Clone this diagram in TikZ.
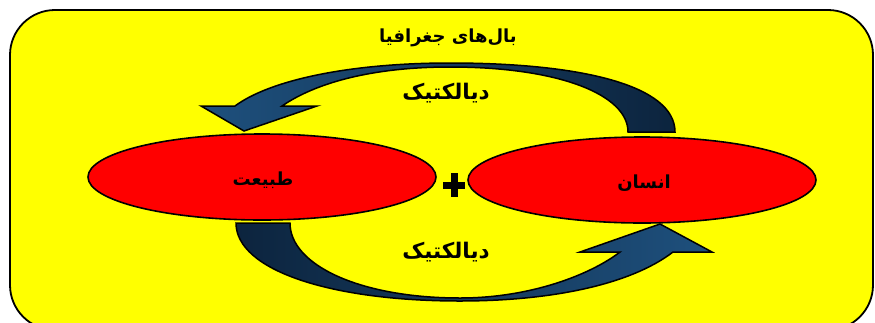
\documentclass[tikz,border=0pt]{standalone}
\usepackage{fontspec}
\usetikzlibrary{shapes.geometric}
\newfontfamily\arabicfont[Script=Arabic]{DejaVu Sans}
\TeXXeTstate=1
\definecolor{bgyellow}{RGB}{255,255,0}
\definecolor{ellred}{RGB}{255,0,0}
\definecolor{arrlight}{RGB}{30,80,125}
\definecolor{arrdark}{RGB}{12,36,62}
\tikzset{
  frame/.style={draw=black, line width=1.8pt, fill=bgyellow, rounded corners=45pt},
  ell/.style={ellipse, draw=black, line width=1.6pt, fill=ellred, minimum width=348pt, minimum height=86pt, inner sep=0pt},
  lab/.style={font=\arabicfont\bfseries\fontsize{18}{21}\selectfont, text=black, inner sep=0pt},
  dlab/.style={font=\arabicfont\bfseries\fontsize{21.5}{25}\selectfont, text=black, inner sep=0pt},
  bigarrow/.style={draw=black, line width=1.5pt, line join=miter},
  plusbar/.style={fill=black},
}
\begin{document}
\begin{tikzpicture}[x=1pt,y=-1pt]
\useasboundingbox (0,0) rectangle (875,322);
\fill[white] (0,0) rectangle (875,322);
\begin{scope}
\clip (0,0) rectangle (875,322);
\path[frame] (10,10) rectangle (873,330);
\end{scope}
% top arrow (from right ellipse to left ellipse)
\path[bigarrow, left color=arrlight, right color=arrdark]
  (675,132) -- (628,132)
  .. controls (628,95) and (560,67) .. (450,67)
  .. controls (380,67) and (320,80) .. (282,106)
  -- (317,106) -- (244,131) -- (201,106) -- (235,106)
  .. controls (270,80) and (350,63) .. (450,63)
  .. controls (580,63) and (675,85) .. (675,132) -- cycle;
% bottom arrow (from left ellipse to right ellipse)
\path[bigarrow, left color=arrdark, right color=arrlight]
  (236,223) -- (290,223)
  .. controls (290,265) and (360,298) .. (460,298)
  .. controls (530,298) and (590,275) .. (620,252)
  -- (580,252) -- (660,224) -- (712,252) -- (673,252)
  .. controls (630,285) and (550,301) .. (460,301)
  .. controls (330,301) and (236,270) .. (236,223) -- cycle;
\node[ell] (nature) at (262,177) {};
\node[ell] (human) at (642,180) {};
\node[lab] (naturetxt) at (263,180) {\beginR طبیعت\endR};
\node[lab] (humantxt) at (644,183) {\beginR انسان\endR};
\coordinate (plus) at (454,185);
\fill[plusbar] ([xshift=-11pt,yshift=-3.5pt]plus) rectangle ([xshift=11pt,yshift=3.5pt]plus);
\fill[plusbar] ([xshift=-3.5pt,yshift=-12pt]plus) rectangle ([xshift=3.5pt,yshift=12pt]plus);
\node[lab] (title) at (448,38) {\beginR بال‌های جغرافیا\endR};
\node[dlab] (dtop) at (446,93) {\beginR دیالکتیک\endR};
\node[dlab] (dbot) at (446,252) {\beginR دیالکتیک\endR};
\end{tikzpicture}
\end{document}
